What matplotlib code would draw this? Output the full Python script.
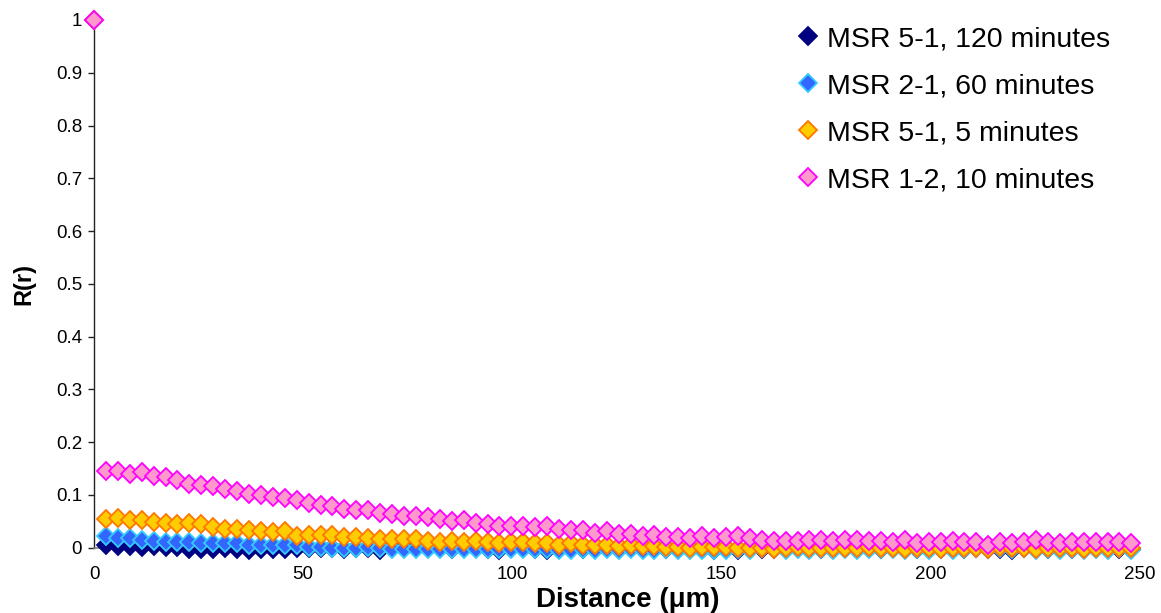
import matplotlib
matplotlib.use("Agg")
import matplotlib.pyplot as plt
from matplotlib.ticker import FixedLocator

plt.rcParams['font.family'] = ['Liberation Sans', 'DejaVu Sans']

# Sampling grid of the correlation function (micrometres)
step_um = 2.85
n_points = 88
distance = [round(i * step_um, 2) for i in range(n_points)]

series_labels = [
    "MSR 5-1, 120 minutes",
    "MSR 2-1, 60 minutes",
    "MSR 5-1, 5 minutes",
    "MSR 1-2, 10 minutes",
]

r_msr51_120 = [
    1.0,
    0.005, 0.003, 0.004, 0.002, 0.003, 0.001, 0.001, -0.003, -0.003, -0.002, 0.000, -0.003, -0.004, -0.003, -0.002, -0.003, -0.001,
    0.000, -0.001, 0.000, -0.003, 0.000, -0.001, -0.004, 0.000, -0.001, 0.000, -0.001, 0.000, -0.002, -0.001, 0.000, -0.002, -0.004, -0.001,
    0.000, -0.002, -0.005, -0.003, 0.000, -0.002, -0.001, 0.000, -0.002, 0.003, 0.000, -0.002, -0.002, -0.003, 0.000, -0.001, -0.004,
    -0.002, -0.004, 0.000, -0.002, -0.003, -0.001, 0.000, -0.002, -0.003, -0.003, -0.001, -0.003, 0.000, -0.002, -0.001, -0.003, -0.002, -0.001,
    -0.002, -0.001, -0.003, -0.001, -0.003, -0.002, -0.004, -0.001, -0.003, -0.003, -0.001, -0.003, -0.003, -0.001, -0.002, -0.002, -0.003,
]

r_msr21_60 = [
    1.0,
    0.022, 0.018, 0.018, 0.015, 0.013, 0.011, 0.011, 0.011, 0.009, 0.008, 0.008, 0.008, 0.006, 0.006, 0.006, 0.006, 0.0045,
    0.001, 0.001, -0.001, -0.001, -0.001, 0.001, 0.000, -0.002, -0.002, -0.002, -0.003, -0.003, -0.003, -0.003, -0.002, -0.003, -0.003, -0.002,
    -0.003, -0.002, -0.003, -0.004, -0.004, -0.003, -0.004, -0.003, -0.004, -0.003, -0.005, -0.004, -0.003, -0.004, -0.005, -0.004, -0.004,
    -0.004, -0.003, -0.004, -0.001, -0.003, -0.004, -0.003, -0.004, -0.003, -0.004, -0.003, -0.004, -0.003, -0.002, -0.003, -0.004, -0.003, -0.004,
    -0.003, -0.004, -0.003, -0.001, -0.003, -0.001, -0.003, -0.001, -0.004, -0.003, -0.004, -0.003, -0.004, -0.003, -0.004, -0.001, -0.004,
]

r_msr51_5 = [
    1.0,
    0.055, 0.056, 0.052, 0.052, 0.049, 0.046, 0.044, 0.046, 0.044, 0.039, 0.036, 0.036, 0.034, 0.031, 0.030, 0.032, 0.022,
    0.025, 0.024, 0.024, 0.020, 0.020, 0.019, 0.017, 0.016, 0.017, 0.016, 0.013, 0.010, 0.012, 0.010, 0.013, 0.010, 0.008, 0.010,
    0.011, 0.008, 0.008, 0.006, 0.008, 0.006, 0.005, 0.006, 0.003, 0.005, 0.003, 0.004, 0.001, 0.001, -0.001, 0.001, 0.001,
    0.001, -0.001, -0.001, 0.000, -0.002, -0.001, 0.001, -0.001, -0.001, 0.000, -0.001, 0.000, 0.001, -0.001, 0.000, -0.002, 0.000, -0.001,
    -0.003, 0.000, -0.001, 0.000, -0.003, 0.001, -0.001, 0.000, -0.002, 0.000, -0.001, 0.000, -0.002, 0.000, -0.001, 0.000, -0.001,
]

r_msr12_10 = [
    1.0,
    0.145, 0.145, 0.140, 0.143, 0.135, 0.134, 0.128, 0.121, 0.119, 0.116, 0.112, 0.107, 0.102, 0.100, 0.097, 0.094, 0.091,
    0.085, 0.081, 0.079, 0.074, 0.072, 0.071, 0.066, 0.064, 0.061, 0.061, 0.058, 0.054, 0.051, 0.052, 0.047, 0.044, 0.042, 0.042,
    0.042, 0.040, 0.041, 0.036, 0.033, 0.034, 0.028, 0.032, 0.026, 0.026, 0.023, 0.025, 0.020, 0.020, 0.018, 0.022, 0.018,
    0.020, 0.022, 0.019, 0.015, 0.013, 0.013, 0.013, 0.015, 0.014, 0.013, 0.015, 0.014, 0.013, 0.013, 0.010, 0.014, 0.009, 0.010,
    0.011, 0.013, 0.011, 0.011, 0.005, 0.010, 0.008, 0.010, 0.014, 0.010, 0.008, 0.010, 0.010, 0.010, 0.010, 0.010, 0.008,
]

series_values = [r_msr51_120, r_msr21_60, r_msr51_5, r_msr12_10]
face_colors = ["#000080", "#3366FF", "#FFCC00", "#FF99CC"]
edge_colors = ["#000080", "#33CCFF", "#FF7700", "#FF00FF"]

x_ticks = [0, 50, 100, 150, 200, 250]
y_ticks = [0, 0.1, 0.2, 0.3, 0.4, 0.5, 0.6, 0.7, 0.8, 0.9, 1]
y_tick_labels = ["0", "0.1", "0.2", "0.3", "0.4", "0.5", "0.6", "0.7", "0.8", "0.9", "1"]

W, H = 1161, 613
fig = plt.figure(figsize=(W / 100, H / 100), dpi=100)
ax = fig.add_axes([94 / W, 1 - 547.7 / H, 1046 / W, 527.7 / H])

for vals, lab, fc, ec in zip(series_values, series_labels, face_colors, edge_colors):
    ax.plot(distance, vals, linestyle="none", marker="D", markersize=8.8,
            markerfacecolor=fc, markeredgecolor=ec, markeredgewidth=1.3,
            label=lab, clip_on=False, zorder=3)

ax.set_xlim(0, 250)
ax.set_ylim(0, 1)

for side in ("top", "right"):
    ax.spines[side].set_visible(False)
ax.spines["left"].set_color("#222222")
ax.spines["left"].set_linewidth(1.0)
ax.spines["bottom"].set_color("#808080")
ax.spines["bottom"].set_linewidth(1.2)

ax.set_yticks(y_ticks)
ax.set_yticklabels(y_tick_labels)
ax.set_xticks(x_ticks)
ax.set_xticklabels([str(t) for t in x_ticks])
ax.xaxis.set_minor_locator(FixedLocator([0, 250]))
ax.tick_params(axis="y", direction="out", length=4.5, width=1.0, color="#222222",
               labelsize=13.5, pad=4)
ax.tick_params(axis="x", which="major", length=0, labelsize=13.5, pad=13)
ax.tick_params(axis="x", which="minor", direction="out", length=3.5, width=1.0, color="#555555")

ax.set_xlabel("Distance (\u03bcm)", fontsize=20, fontweight="bold")
ax.xaxis.set_label_coords(0.5105, -0.075)
ax.set_ylabel("R(r)", fontsize=17, fontweight="bold", labelpad=15)

leg = ax.legend(loc="upper left", bbox_to_anchor=(797 / W, 1 - 26 / H),
                bbox_transform=fig.transFigure, frameon=False, fontsize=20.5,
                handlelength=0.75, handletextpad=0.3, labelspacing=0.74,
                borderpad=0, borderaxespad=0, markerscale=1.0)

fig.savefig("out.png", dpi=100)
